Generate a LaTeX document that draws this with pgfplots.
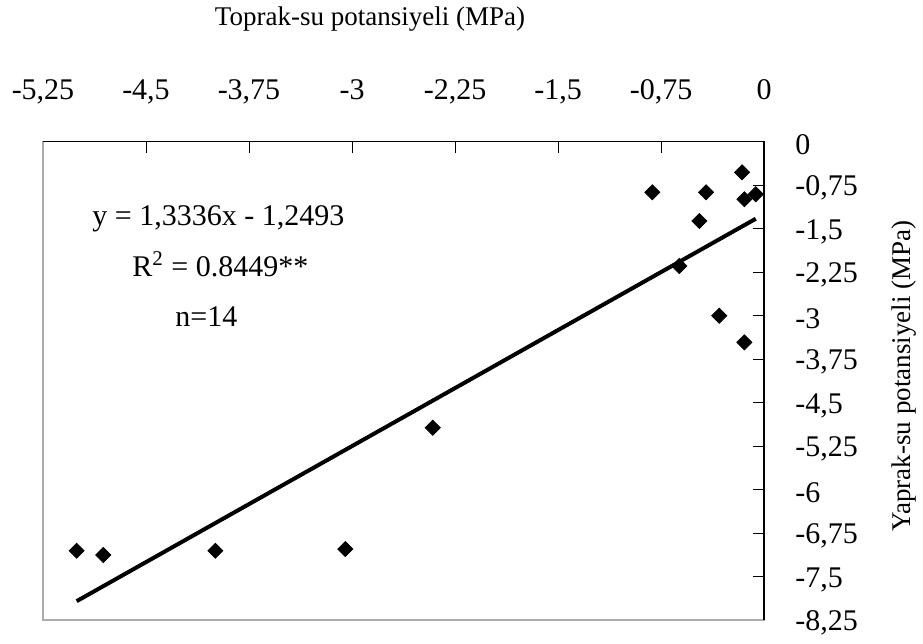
\documentclass[border=0pt]{standalone}
\usepackage{fontspec}
\setmainfont{Liberation Serif}
\usepackage{pgfplots}
\pgfplotsset{compat=1.18}
\begin{document}
\begin{tikzpicture}
\begin{axis}[
  name=ax,
  scale only axis,
  width=360.5pt, height=239.2pt,
  xmin=-5.25, xmax=0, ymin=-8.25, ymax=0,
  axis line style={gray!65, line width=0.8pt},
  xtick pos=right, ytick pos=right,
  xticklabel pos=right, yticklabel pos=right,
  tick align=inside,
  major tick length=5.5pt,
  tick style={black, line width=0.5pt},
  xtick={-5.25,-4.5,-3.75,-3,-2.25,-1.5,-0.75,0},
  xticklabels={{-5,25},{-4,5},{-3,75},{-3},{-2,25},{-1,5},{-0,75},{0}},
  ytick={0,-0.75,-1.5,-2.25,-3,-3.75,-4.5,-5.25,-6,-6.75,-7.5,-8.25},
  yticklabels={{0},{-0,75},{-1,5},{-2,25},{-3},{-3,75},{-4,5},{-5,25},{-6},{-6,75},{-7,5},{-8,25}},
  xticklabel style={font=\fontsize{15}{18}\selectfont, anchor=base, inner sep=0pt, yshift=20.85pt},
  yticklabel style={font=\fontsize{15}{18}\selectfont, anchor=west, inner sep=0pt, xshift=15.5pt, yshift=-1.5pt},
  clip=false,
]
\addplot[only marks, mark=square*, mark size=2.65pt, mark options={rotate=45, fill=black, draw=black}] coordinates {
(-5.005,-7.054) (-4.811,-7.128) (-3.995,-7.054) (-3.049,-7.025) (-2.412,-4.933)
(-0.813,-0.873) (-0.422,-0.873) (-0.160,-0.528) (-0.143,-0.993) (-0.060,-0.907)
(-0.471,-1.368) (-0.617,-2.144) (-0.326,-3.001) (-0.143,-3.460)
};
\addplot[black, line width=2pt] coordinates {(-5.005,-7.924) (-0.06,-1.329)};
\draw[black, line width=0.8pt] (rel axis cs:0,1) -- (rel axis cs:1,1) -- (rel axis cs:1,0);
\node[anchor=base west, inner sep=0pt, font=\fontsize{15}{18}\selectfont] at (axis description cs:0.068,0.8258) {y = 1,3336x - 1,2493};
\node[anchor=base west, inner sep=0pt, font=\fontsize{15}{18}\selectfont] at (axis description cs:0.1234,0.7192) {R\textsuperscript{2} = 0.8449**};
\node[anchor=base west, inner sep=0pt, font=\fontsize{15}{18}\selectfont] at (axis description cs:0.1831,0.6147) {n=14};
\node[anchor=base, inner sep=0pt, font=\fontsize{13.5}{16}\selectfont] at (axis description cs:0.4535,1.2419) {Toprak-su potansiyeli (MPa)};
\node[anchor=base, rotate=90, inner sep=0pt, font=\fontsize{13.5}{16}\selectfont] at (axis description cs:1.2025,0.51) {Yaprak-su potansiyeli (MPa)};
\end{axis}
\pgfresetboundingbox
\path[use as bounding box] ([xshift=-21.5pt,yshift=-11.5pt]ax.south west) rectangle ([xshift=79.5pt,yshift=70.85pt]ax.north east);
\end{tikzpicture}
\end{document}
